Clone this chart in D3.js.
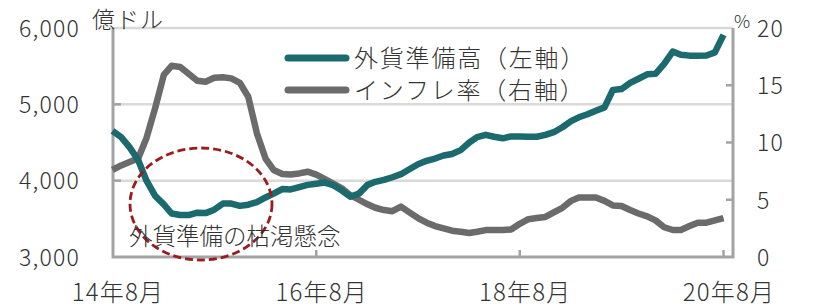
<!DOCTYPE html>
<html>
<head>
<meta charset="utf-8">
<script src="https://cdn.jsdelivr.net/npm/d3@7"></script>
<style>
  body { margin: 0; background: #fff; }
  text { font-family: "Noto Sans CJK JP", "Noto Sans", sans-serif; font-weight: 300; fill: #333; }
</style>
</head>
<body>
<svg width="817" height="307"></svg>
<script>
// monthly, 2014-08 .. 2020-08
var startMonth = new Date(2014, 7, 1);
var reserves = [4651, 4570, 4440, 4270, 4000, 3800, 3690, 3570, 3550, 3550, 3580, 3575, 3620,
  3700, 3700, 3670, 3685, 3720, 3780, 3830, 3890, 3885, 3915, 3945, 3960,
  3975, 3940, 3870, 3790, 3830, 3945, 3985, 4010, 4045, 4085, 4150, 4215,
  4260, 4290, 4330, 4350, 4400, 4500, 4570, 4600, 4575, 4555, 4580, 4580,
  4575, 4575, 4600, 4635, 4700, 4780, 4830, 4870, 4915, 4960, 5188, 5200,
  5280, 5335, 5393, 5400, 5530, 5690, 5650, 5638, 5638, 5640, 5680, 5910];
var inflation = [7.6, 8.0, 8.3, 8.6, 10.4, 13.0, 15.9, 16.7, 16.6, 16.0, 15.4, 15.3, 15.65,
  15.7, 15.6, 15.2, 14.0, 10.8, 8.6, 7.6, 7.25, 7.2, 7.3, 7.45, 7.2,
  6.8, 6.4, 6.0, 5.4, 5.0, 4.6, 4.3, 4.1, 4.0, 4.4, 3.9, 3.4,
  3.0, 2.7, 2.5, 2.3, 2.2, 2.1, 2.2, 2.35, 2.35, 2.35, 2.4, 2.9,
  3.3, 3.4, 3.5, 3.9, 4.3, 4.9, 5.2, 5.2, 5.2, 4.9, 4.5, 4.45,
  4.1, 3.8, 3.55, 3.2, 2.6, 2.36, 2.36, 2.7, 3.0, 3.0, 3.2, 3.4];
var leftTicks = [3000, 4000, 5000, 6000];
var rightTicks = [0, 5, 10, 15, 20];
var xTickLabels = ["14年8月", "16年8月", "18年8月", "20年8月"];
var xTickDates = [new Date(2014, 7, 1), new Date(2016, 7, 1), new Date(2018, 7, 1), new Date(2020, 7, 1)];
var seriesNames = ["外貨準備高（左軸）", "インフレ率（右軸）"];

var months = reserves.map(function(d, i) { return d3.timeMonth.offset(startMonth, i); });

var plot = {left: 113, right: 733, top: 28, bottom: 257};
var svg = d3.select("svg");

var x = d3.scaleTime().domain([startMonth, new Date(2020, 8, 4)]).range([plot.left - 0.5, plot.right]);
var yL = d3.scaleLinear().domain([3000, 6000]).range([plot.bottom, plot.top]);
var yR = d3.scaleLinear().domain([0, 20]).range([plot.bottom, plot.top]);

// gridlines
svg.append("g").selectAll("line")
  .data(leftTicks.slice(1)).enter().append("line")
  .attr("x1", plot.left).attr("x2", plot.right)
  .attr("y1", function(d) { return yL(d); })
  .attr("y2", function(d) { return yL(d); })
  .attr("stroke", "#d9d9d9").attr("stroke-width", 2.5);

// axes
var axisColor = "#a3a3a3";
var yAxisL = d3.axisLeft(yL).tickValues(leftTicks).tickFormat(d3.format(",")).tickSize(0).tickPadding(33);
var gL = svg.append("g").attr("transform", "translate(" + plot.left + ",0)").call(yAxisL);
gL.select(".domain").remove();
gL.selectAll("text").style("font-size", "23px").style("letter-spacing", "1.2px")
  .attr("dy", "0.36em").attr("fill", "#333");

var yAxisR = d3.axisRight(yR).tickValues(rightTicks).tickSize(0).tickPadding(24);
var gR = svg.append("g").attr("transform", "translate(" + plot.right + ",0)").call(yAxisR);
gR.select(".domain").remove();
gR.selectAll("text").style("font-size", "23px").style("letter-spacing", "1.2px")
  .attr("dy", "0.36em").attr("fill", "#333");

var xAxis = d3.axisBottom(x).tickValues(xTickDates).tickFormat(function(d, i) { return xTickLabels[i]; }).tickSize(0);
var gX = svg.append("g").attr("transform", "translate(0," + plot.bottom + ")").call(xAxis);
gX.select(".domain").remove();
gX.selectAll("text").style("font-size", "24px").style("letter-spacing", "1.2px")
  .attr("y", 35).attr("dy", "0.36em").attr("dx", "5").attr("fill", "#333");

// inner tick marks
svg.append("g").selectAll("line").data([4000, 5000]).enter().append("line")
  .attr("x1", plot.left).attr("x2", plot.left + 8)
  .attr("y1", function(d) { return yL(d); }).attr("y2", function(d) { return yL(d); })
  .attr("stroke", axisColor).attr("stroke-width", 2.5);
svg.append("g").selectAll("line").data([5, 10, 15]).enter().append("line")
  .attr("x1", plot.right - 7).attr("x2", plot.right)
  .attr("y1", function(d) { return yR(d); }).attr("y2", function(d) { return yR(d); })
  .attr("stroke", axisColor).attr("stroke-width", 2.5);
svg.append("g").selectAll("line").data(xTickDates.slice(1)).enter().append("line")
  .attr("x1", function(d) { return x(d); }).attr("x2", function(d) { return x(d); })
  .attr("y1", plot.bottom - 7).attr("y2", plot.bottom)
  .attr("stroke", axisColor).attr("stroke-width", 2.5);

// axis lines
svg.append("path")
  .attr("d", "M" + plot.left + "," + plot.top + "V" + plot.bottom + "H" + plot.right + "V" + plot.top)
  .attr("fill", "none").attr("stroke", axisColor).attr("stroke-width", 3);

// series
var lineR = d3.line().x(function(d, i) { return x(months[i]); }).y(function(d) { return yR(d); });
var lineL = d3.line().x(function(d, i) { return x(months[i]); }).y(function(d) { return yL(d); });

svg.append("path").datum(inflation).attr("d", lineR)
  .attr("fill", "none").attr("stroke", "#6b6b6b").attr("stroke-width", 6.5)
  .attr("stroke-linejoin", "round");
svg.append("path").datum(reserves).attr("d", lineL)
  .attr("fill", "none").attr("stroke", "#1a6a6e").attr("stroke-width", 6.5)
  .attr("stroke-linejoin", "round");

// unit labels
svg.append("text").attr("x", 92).attr("y", 20).attr("dy", "0.36em")
  .style("font-size", "23px").style("letter-spacing", "1px").text("億ドル");
svg.append("text").attr("x", 734).attr("y", 22).attr("dy", "0.36em")
  .style("font-size", "18px").text("%");

// legend
var legend = svg.append("g");
var legendColors = ["#1a6a6e", "#6b6b6b"];
seriesNames.forEach(function(name, i) {
  var ly = 58 + i * 32;
  legend.append("line").attr("x1", 288).attr("x2", 346).attr("y1", ly).attr("y2", ly)
    .attr("stroke", legendColors[i]).attr("stroke-width", 7).attr("stroke-linecap", "round");
  legend.append("text").attr("x", 354).attr("y", ly).attr("dy", "0.36em")
    .style("font-size", "24px").style("letter-spacing", "1.8px").text(name);
});

// annotation
svg.append("ellipse").attr("cx", 201).attr("cy", 204).attr("rx", 71).attr("ry", 56)
  .attr("fill", "none").attr("stroke", "#9b1c1c").attr("stroke-width", 2.8)
  .attr("stroke-dasharray", "8,4");
svg.append("text").attr("x", 129).attr("y", 237).attr("dy", "0.36em")
  .style("font-size", "23.5px").text("外貨準備の枯渇懸念");
</script>
</body>
</html>
